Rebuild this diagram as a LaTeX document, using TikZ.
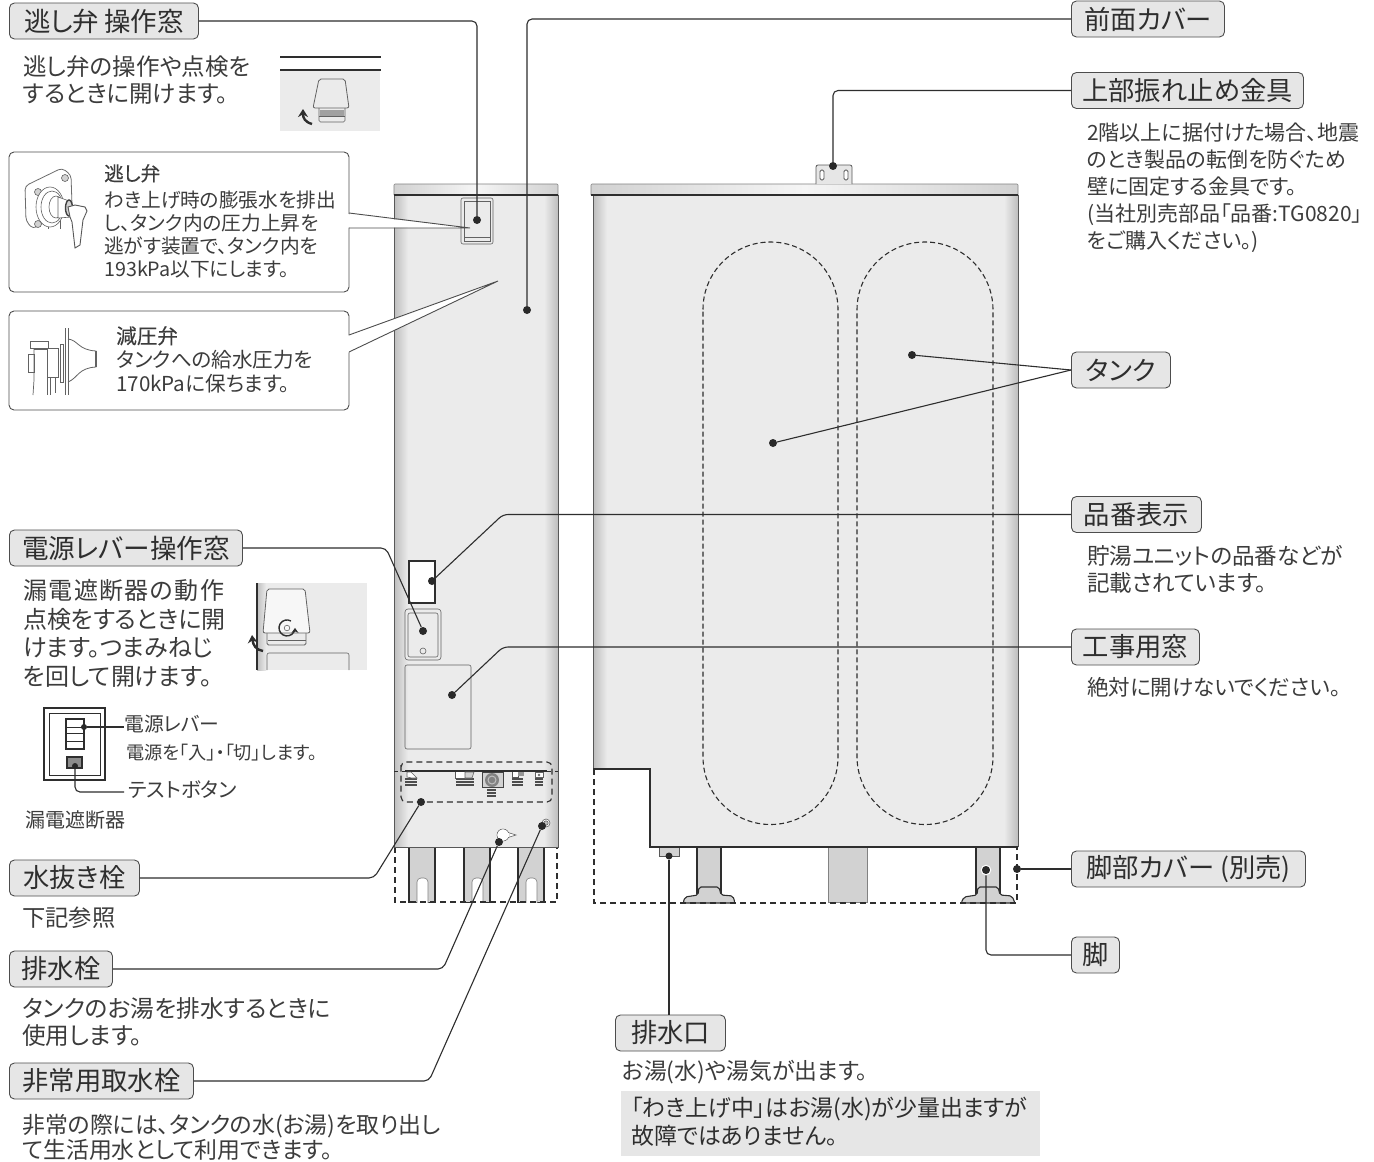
\documentclass[tikz,border=0pt]{standalone}
\usepackage{fontspec}
\setmainfont{Noto Sans CJK JP}[RawFeature=+palt]
\usetikzlibrary{arrows.meta}
\definecolor{ink}{HTML}{2E2E2E}
\definecolor{txt}{HTML}{3C3C3C}
\definecolor{body}{HTML}{EBEBEB}
\definecolor{edge}{HTML}{BEBEBE}
\definecolor{legc}{HTML}{D2D2D2}
\definecolor{lab}{HTML}{E6E6E6}
\tikzset{
 x=1pt,y=-1pt,
 conn/.style={draw=ink,line width=1.1pt,rounded corners=5pt},
 dotn/.style={circle,fill=ink!90!black,draw=none,minimum size=8pt,inner sep=0pt},
 halo/.style={circle,fill=ink!90!black,draw=white,line width=1pt,minimum size=9.5pt,inner sep=0pt},
 lbl/.style={draw=ink!85,line width=0.9pt,rounded corners=5pt,fill=lab,minimum height=36pt,inner sep=0pt,anchor=west,
   font=\fontsize{26.3}{30}\selectfont,text=ink},
 btext/.style={anchor=north west,inner sep=0pt,align=left,text=txt},
 callout/.style={draw=ink!85,line width=0.9pt,rounded corners=5pt,fill=white},
 thinl/.style={draw=ink!80,line width=0.7pt},
 fine/.style={draw=ink!75,line width=0.6pt},
 dashb/.style={draw=ink,line width=1.2pt,dash pattern=on 6pt off 4pt},
 tankd/.style={draw=ink,line width=1.1pt,dash pattern=on 5pt off 3pt},
 legs/.style={draw=ink,line width=1.2pt,fill=legc},
 edgeL/.style={left color=edge,right color=body,draw=none},
 edgeR/.style={left color=body,right color=edge,draw=none},
 stack/.style={fill=ink!85,draw=none},
}
\newcommand{\ttl}[1]{{\addfontfeature{FakeBold=0.25}#1}}
\begin{document}
\begin{tikzpicture}
\useasboundingbox (0,0) rectangle (1374,1162);
\fill[white] (0,0) rectangle (1374,1162);

% ---------- left unit: legs and dashed cover
\path[legs] (409,847) rectangle (435,903);
\path[legs] (464,847) rectangle (490,903);
\path[legs] (518,847) rectangle (544,903);
\foreach \sx in {417,472,526}{
  \path[draw=ink!60,line width=0.6pt,fill=white,rounded corners=4pt] (\sx,908) -- (\sx,878) -- (\sx+11,878) -- (\sx+11,908);
}
\fill[white] (405,903) rectangle (550,912);
\draw[dashb] (395,847) -- (395,902) -- (557,902) -- (557,847);

% left unit body
\fill[body] (394,195) rectangle (558,847);
\path[edgeL] (394,195) rectangle (408,847);
\path[edgeR] (544,195) rectangle (558,847);
\draw[thinl] (394,195) -- (394,847) -- (558,847) -- (558,195);
\path[left color=edge!70,right color=edge!70,middle color=white!50!body,draw=ink!60,line width=0.6pt,rounded corners=1pt] (394,195) -- (394,184) -- (558,184) -- (558,195);
\draw[draw=ink,line width=1.1pt] (394,195) -- (558,195);

% left unit windows
\draw[fine,fill=body,rounded corners=2pt] (461,198) rectangle (493,244);
\draw[fine] (464,201) rectangle (490,241);
\draw[fine] (464,237) -- (490,237);
\draw[draw=ink,line width=1.3pt,fill=white] (409,561) rectangle (435,603);
\draw[fine,fill=body,rounded corners=3pt] (405,609) rectangle (441,660);
\draw[fine,rounded corners=2pt] (408,613) rectangle (438,657);
\draw[fine] (423,651) circle (3pt);
\draw[fine,rounded corners=2pt] (405,665) rectangle (471,749);

% hose/valve strip
\draw[ink,line width=1pt,dash pattern=on 4pt off 4pt] (394,771) -- (405,771);
\draw[ink,line width=1pt,dash pattern=on 4pt off 4pt] (547,771) -- (558,771);
\draw[ink,line width=1.2pt] (405,771) -- (547,771);
\foreach \vx/\vw in {405/12,456/18,512/11,535/8}{
  \path[stack] (\vx,778) rectangle ++(\vw,2);
  \path[stack] (\vx,781) rectangle ++(\vw,2);
  \path[stack] (\vx,784) rectangle ++(\vw,2);
}
\draw[fine,fill=white] (407,772) -- (411,772) -- (417,778) -- (412,778) -- (407,777) -- cycle;
\draw[ink!80,line width=0.8pt,fill=white] (455,772) -- (455,778) -- (465,778) -- (465,772);
\draw[fine,fill=legc] (465,772) -- (474,772) -- (472,778) -- (465,778) -- cycle;
\draw[ink!80,line width=0.8pt,fill=white] (512,772) -- (512,777) -- (518,777) -- (518,772);
\path[fill=ink!50] (518,772) rectangle (524,776);
\draw[fine,fill=white] (535,772) rectangle (543,777);
\fill[ink!70] (539,775) circle (1.3pt);
\draw[ink!90,line width=1pt,fill=legc] (482,772) rectangle (503,787);
\fill[ink!60] (492,780) circle (7pt);
\draw[white!70!ink,line width=1pt] (492,780) circle (4pt);
\foreach \sy in {789,792,795}{\path[stack] (487,\sy) rectangle ++(9,2);}
\draw[dashb,line width=1.1pt,rounded corners=5pt] (401,770) -- (401,762) -- (552,762) -- (552,802) -- (401,802) -- cycle;

% drain plug and emergency tap
\draw[fine,fill=white] (508,832.5) -- (516,835) -- (508,837.5) -- cycle;
\draw[fine,fill=white] (503,835) circle (6pt);
\fill[white] (503,835) circle (5.6pt);
\fill[white] (507,833.2) rectangle (509,836.8);
\draw[fine,fill=white] (546,823) circle (4pt);
\draw[fine,fill=edge] (546,823) circle (2.2pt);

% ---------- right unit
\path[legs] (697,847) rectangle (721,893);
\path[legs] (976,847) rectangle (1000,893);
\path[draw=ink!60,line width=1pt,fill=legc] (828,847) rectangle (867,902.5);
\path[legs,line width=1.1pt,rounded corners=2pt] (683,903) -- (685,897) -- (698,895) -- (699,887) -- (719,887) -- (721,895) -- (733,896) -- (735,903) -- cycle;
\path[legs,line width=1.1pt,rounded corners=2pt] (961,903) -- (964,897) -- (977,895) -- (978,887) -- (998,887) -- (1000,895) -- (1012,896) -- (1015,903) -- cycle;
\draw[dashb] (594,769) -- (594,903) -- (1017,903) -- (1017,847);
\draw[ink!80,line width=1pt,fill=legc] (659,847) -- (659,856) -- (679,856) -- (679,847);
\fill[body] (593,195) -- (1018,195) -- (1018,847) -- (650,847) -- (650,769) -- (593,769) -- cycle;
\path[edgeL] (593,195) rectangle (607,769);
\path[edgeR] (1004,195) rectangle (1018,847);
\draw[thinl] (593,195) -- (593,769);
\draw[thinl] (1018,847) -- (1018,195);
\draw[ink,line width=1.1pt] (593,769) -- (650,769) -- (650,847) -- (1018,847);
\path[left color=edge!70,right color=edge!70,middle color=white!50!body,draw=ink!60,line width=0.6pt,rounded corners=1pt] (591,195) -- (591,184) -- (1018,184) -- (1018,195);
\draw[draw=ink,line width=1.1pt] (591,195) -- (1018,195);
\draw[tankd] (703,309.5) arc (180:360:67.5) -- (838,757) arc (0:180:67.5) -- cycle;
\draw[tankd] (857,310) arc (180:360:68) -- (993,756.5) arc (0:180:68) -- cycle;
% top bracket
\draw[ink!80,line width=0.8pt,fill=lab,rounded corners=2pt] (816,184) -- (816,165) -- (852,165) -- (852,184);
\draw[ink!80,line width=0.8pt,fill=white,rounded corners=1.5pt] (820,170) rectangle (824,180);
\draw[ink!80,line width=0.8pt,fill=white,rounded corners=1.5pt] (844,170) rectangle (848,180);

% ---------- labels
\node[lbl,minimum width=189pt,font=\fontsize{26.5}{30}\selectfont] (Lrelief) at (9,21) {逃し弁\hspace{5pt}操作窓};
\node[lbl,minimum width=233pt,font=\fontsize{26.6}{30}\selectfont] (Lpower) at (9,548) {電源レバー操作窓};
\node[lbl,minimum width=130pt] (Ldrainv) at (9,878) {水抜き栓};
\node[lbl,minimum width=103pt] (Ldrain) at (9,969) {排水栓};
\node[lbl,minimum width=184pt] (Lemerg) at (9,1081) {非常用取水栓};
\node[lbl,minimum width=153pt] (Lfront) at (1071,19) {前面カバー};
\node[lbl,minimum width=232pt] (Ltop) at (1071,90.5) {上部振れ止め金具};
\node[lbl,minimum width=99pt] (Ltank) at (1071,370) {タンク};
\node[lbl,minimum width=130pt] (Lmodel) at (1071,514.5) {品番表示};
\node[lbl,minimum width=128pt] (Lwork) at (1071,647) {工事用窓};
\node[lbl,minimum width=234pt] (Lcover) at (1071,869) {脚部カバー\hspace{6pt}(別売)\hspace{5pt}};
\node[lbl,minimum width=48pt] (Lleg) at (1071,955) {脚};
\node[lbl,minimum width=110pt] (Loutlet) at (615,1033) {排水口};

% ---------- callouts
\draw[callout] (9,152) rectangle (349,292);
\draw[callout] (9,311) rectangle (349,410);
\fill[white] (347,214) -- (470,228) -- (347,227.5) -- cycle;
\draw[ink!85,line width=0.9pt] (349,213) -- (470,228) -- (349,228);
\fill[white] (347,336) -- (498,281) -- (347,353) -- cycle;
\draw[ink!85,line width=0.9pt] (349,335) -- (498,281) -- (349,352);

% relief valve picture
\draw[ink!70,line width=0.8pt,fill=white,rounded corners=4pt] (25,186) -- (62,168) -- (71,175) -- (72,205) -- (33,229) -- (26,221) -- cycle;
\draw[fine,fill=legc] (38,192) circle (3.5pt);
\draw[fine,fill=legc] (65,178) circle (3.5pt);
\draw[fine,fill=legc] (38,224) circle (3.5pt);
\draw[fine] (48,221) -- (48,229) (60,220) -- (60,229);
\draw[fine,fill=white] (50,207) ellipse (14pt and 20pt);
\draw[fine,fill=white] (52,207) ellipse (11pt and 16pt);
\draw[fine,fill=white] (56,207) ellipse (7pt and 11pt);
\draw[fine,fill=white] (58,197) -- (72,202) -- (72,217) -- (58,218) -- cycle;
\draw[ink!90,line width=1.4pt,fill=legc] (69,208) ellipse (3.5pt and 8pt);
\draw[ink!80,line width=0.9pt,fill=white] (68,207) -- (75,205) -- (85,207) -- (87,211) -- (83,220) -- (80,245) -- (75,248) -- (72,222) -- (70,217) -- cycle;

% pressure valve picture
\draw[ink!75,line width=0.8pt] (65,328) -- (65,395);
\draw[ink!75,line width=0.8pt] (68,328) -- (68,395);
\draw[ink!75,line width=0.8pt] (68,339) .. controls (78,340) and (78,350) .. (96,351) -- (96,367) .. controls (78,368) and (78,378) .. (68,382);
\draw[ink!75,line width=1.2pt] (96,351) -- (96,367);
\draw[ink!75,line width=0.7pt] (60,344) rectangle (63,382);
\draw[ink!75,line width=0.7pt] (47,348) rectangle (58,377);
\draw[ink!75,line width=0.7pt] (30,341) rectangle (48,348);
\draw[ink!75,line width=0.7pt] (34,349) -- (47,349) (28,354) rectangle (34,372);
\draw[ink!75,line width=0.7pt] (34,349) -- (34,380) -- (33,395);
\draw[ink!75,line width=0.7pt] (47,377) -- (47,395) (50,377) -- (50,395) (55,377) -- (55,393);

% top mini picture
\fill[body] (280,70) rectangle (380,131);
\draw[ink,line width=1.1pt] (280,57) -- (381,57);
\draw[ink,line width=1.1pt] (280,70) -- (381,70);
\fill[ink!45] (320,110) rectangle (344,116);
\draw[ink!75,line width=0.8pt,fill=body,rounded corners=2pt] (319,79) -- (345,79) -- (349,108) -- (313,108) -- cycle;
\draw[fine,rounded corners=1.5pt] (319,108) -- (319,122) -- (345,122) -- (345,108);
\draw[fine] (319,116) -- (345,116);
\draw[ink,line width=2.4pt,-{Stealth[length=8pt,width=10pt]}] (312,124) .. controls (305,122) and (303,118) .. (303,109);

% power-window mini picture
\fill[body] (257,583) rectangle (367,670);
\path[left color=edge,right color=body] (257,583) rectangle (266,670);
\draw[ink,line width=1.2pt] (257,583) -- (257,670);
\draw[ink!75,line width=0.8pt,rounded corners=1.5pt] (267,633) -- (267,645) -- (306,645) -- (306,633);
\draw[ink!75,line width=0.8pt,fill=white!60!body,rounded corners=2pt] (267,589) -- (305,589) -- (310,633) -- (263,633) -- cycle;
\draw[fine] (268,640) -- (306,640);
\draw[fine,rounded corners=2pt] (267,670) -- (267,653) -- (349,653) -- (349,670);
\draw[fine] (287,628) circle (2.8pt);
\draw[ink,line width=1.4pt,-{Stealth[length=5pt,width=7pt]}] (291,621) arc (60:360:8pt);
\draw[ink,line width=2.4pt,-{Stealth[length=8pt,width=10pt]}] (263,651) .. controls (256,650) and (253,645) .. (252,635);

% breaker diagram
\draw[ink,line width=1.2pt] (44,708) rectangle (105,780);
\draw[ink,line width=0.9pt] (49,713) rectangle (100,775);
\draw[ink,line width=1.6pt] (66,719) rectangle (84,749);
\draw[ink,line width=0.9pt] (66,727) -- (84,727) (66,733) -- (84,733) (66,741) -- (84,741);
\draw[ink,line width=1.2pt,fill=ink!55] (67,757) rectangle (82,768);
\node[dotn,minimum size=6pt] (Dlever) at (84,727) {};
\node[dotn,minimum size=6pt] (Dtest) at (75,766) {};
\coordinate (Clever) at (124,727);
\coordinate (Ctest) at (124,792);
\draw[ink,line width=1.1pt] (Dlever) -- (Clever);
\draw[conn] (Dtest) |- (Ctest);

% ---------- dots
\node[dotn] (D1) at (477,220) {};
\node[dotn] (D2) at (527,310) {};
\node[dotn] (D3) at (833,166) {};
\node[dotn] (D4) at (912,355) {};
\node[dotn] (D5) at (773,443) {};
\node[dotn] (D6) at (432,581) {};
\node[dotn] (D7) at (452,695) {};
\node[dotn] (D8) at (423,631) {};
\node[dotn] (D9) at (421,802) {};
\node[dotn] (D10) at (499,842) {};
\node[dotn] (D11) at (542,826) {};
\node[dotn] (D12) at (1017,869) {};
\node[halo] (D13) at (986,870) {};
\node[dotn,minimum size=7pt] (D14) at (669,856) {};

% ---------- connectors
\draw[conn] (Lrelief.east) -| (D1);
\draw[conn] (Lfront.west) -| (D2);
\draw[conn] (Ltop.west) -| (D3);
\draw[conn] (Ltank.west) -- (D4);
\draw[conn] (Ltank.west) -- (D5);
\draw[conn] (Lmodel.west) -- (503,514.5) -- (D6);
\draw[conn] (Lwork.west) -- (503,647) -- (D7);
\draw[conn] (Lpower.east) -- (386,548) -- (D8);
\draw[conn] (Ldrainv.east) -- (374,878) -- (D9);
\draw[conn] (Ldrain.east) -- (443,969) -- (D10);
\draw[conn] (Lemerg.east) -- (429,1081) -- (D11);
\draw[conn] (Lcover.west) -- (D12);
\draw[conn] (Lleg.west) -| (D13);
\draw[conn] (Loutlet.north -| D14) -- (D14);

% ---------- texts
\node[btext,font=\fontsize{23.5}{27}\selectfont] (T1) at (23,55) {逃し弁の操作や点検を\\するときに開けます。};
\node[btext,font=\fontsize{19.7}{23.2}\selectfont] (T2) at (104,164) {\ttl{逃し弁}\\[3pt]わき上げ時の膨張水を排出\\し、タンク内の圧力上昇を\\逃がす装置で、タンク内を\\193kPa以下にします。};
\node[btext,font=\fontsize{20.6}{24}\selectfont] (T3) at (116,326) {\ttl{減圧弁}\\タンクへの給水圧力を\\170kPaに保ちます。};
\node[btext,font=\fontsize{24}{28.8}\selectfont] (T4) at (23,579) {{\addfontfeature{LetterSpace=6}漏電遮断器の動作}\\点検をするときに開\\けます。つまみねじ\\を回して開けます。};
\node[btext,font=\fontsize{19.8}{23}\selectfont] (T5) at (124,715) {電源レバー};
\node[btext,font=\fontsize{18.2}{20}\selectfont] (T6) at (126,744) {電源を「入」・「切」します。};
\node[btext,font=\fontsize{20.5}{23}\selectfont] (T7) at (128,781) {テストボタン};
\node[btext,font=\fontsize{20}{23}\selectfont] (T8) at (25,810) {漏電遮断器};
\node[btext,font=\fontsize{23.3}{27}\selectfont] (T9) at (22,907) {下記参照};
\node[btext,font=\fontsize{23.7}{27}\selectfont] (T10) at (22,997) {タンクのお湯を排水するときに\\使用します。};
\node[btext,font=\fontsize{22.9}{25.5}\selectfont] (T11) at (22,1114) {非常の際には、タンクの水(お湯)を取り出し\\て生活用水として利用できます。};
\node[btext,font=\fontsize{21}{27}\selectfont] (T12) at (1087,123) {2階以上に据付けた場合、地震\\のとき製品の転倒を防ぐため\\壁に固定する金具です。\\(当社別売部品「品番:TG0820」\\をご購入ください。)};
\node[btext,font=\fontsize{22.6}{27}\selectfont] (T13) at (1087,545) {貯湯ユニットの品番などが\\記載されています。};
\node[btext,font=\fontsize{21.5}{27}\selectfont] (T14) at (1087,677) {絶対に開けないでください。};
\node[btext,font=\fontsize{22.8}{25}\selectfont] (T15) at (622,1060) {お湯(水)や湯気が出ます。};
\fill[lab] (621,1091) rectangle (1040,1156);
\node[btext,text=ink,font=\fontsize{22.9}{28}\selectfont] (T16) at (631,1097) {「わき上げ中」はお湯(水)が少量出ますが\\故障ではありません。};
\end{tikzpicture}
\end{document}
